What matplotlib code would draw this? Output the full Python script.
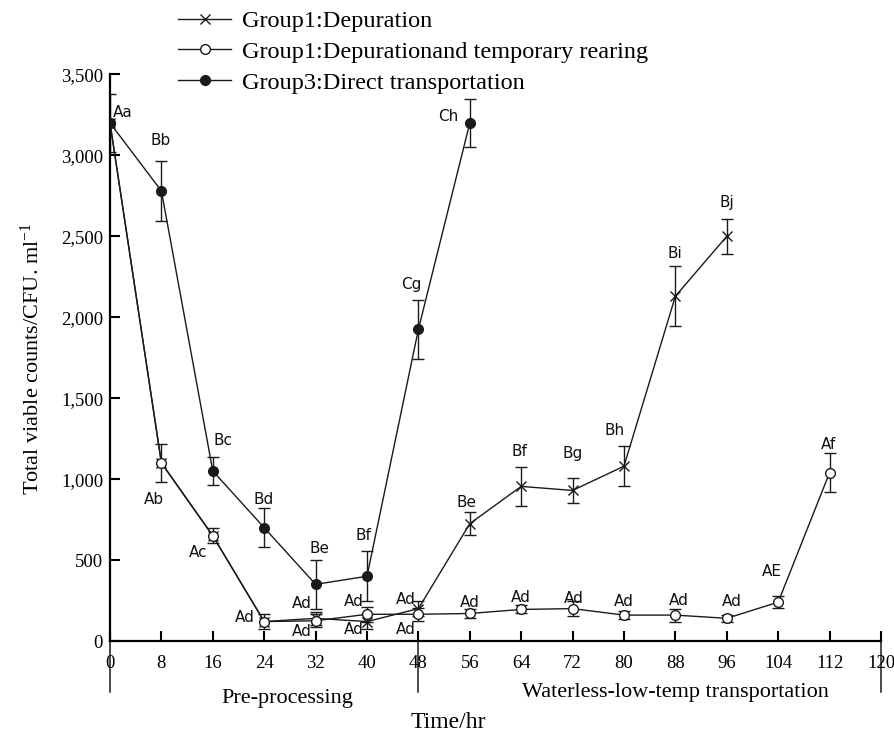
import numpy as np
import matplotlib
matplotlib.use('Agg')
import matplotlib.pyplot as plt
from matplotlib.ticker import FuncFormatter, MultipleLocator

plt.rcParams['font.family'] = ['Liberation Serif', 'DejaVu Serif']
plt.rcParams['mathtext.default'] = 'regular'

# --- data ---
hours_dep = [0, 8, 16, 24, 32, 40, 48, 56, 64, 72, 80, 88, 96]
counts_dep = [3200, 1100, 650, 120, 140, 120, 200, 725, 955, 930, 1080, 2130, 2500]
err_dep = [0, 0, 0, 0, 40, 45, 45, 72, 120, 75, 125, 185, 108]
labels_dep = [None, None, None, None, 'Ad', 'Ad', 'Ad', 'Be', 'Bf', 'Bg', 'Bh', 'Bi', 'Bj']

hours_rear = [0, 8, 16, 24, 32, 40, 48, 56, 64, 72, 80, 88, 96, 104, 112]
counts_rear = [3200, 1100, 650, 120, 125, 165, 165, 170, 195, 200, 160, 160, 140, 240, 1040]
err_rear = [0, 118, 45, 45, 40, 45, 40, 25, 25, 45, 25, 40, 20, 35, 120]
labels_rear = [None, 'Ab', 'Ac', 'Ad', 'Ad', 'Ad', 'Ad', 'Ad', 'Ad', 'Ad', 'Ad', 'Ad', 'Ad', 'AE', 'Af']

hours_direct = [0, 8, 16, 24, 32, 40, 48, 56]
counts_direct = [3200, 2780, 1050, 700, 350, 400, 1925, 3200]
err_direct = [180, 185, 85, 120, 150, 155, 180, 150]
labels_direct = ['Aa', 'Bb', 'Bc', 'Bd', 'Be', 'Bf', 'Cg', 'Ch']

series_names = ['Group1:Depuration',
                'Group1:Depurationand temporary rearing',
                'Group3:Direct transportation']

x_ticks = list(range(0, 121, 8))
phase_bounds = [0, 48, 120]
phase_names = ['Pre-processing', 'Waterless-low-temp transportation']

# label offsets in pixels (dx right, dy down) from each point
off_dep = [None, None, None, None, (-14, 13), (-13, 8), (-13, 21),
           (-3, -21), (-2, -35), (0, -37), (-9, -36), (-1, -43), (0, -34)]
off_rear = [None, (-7, 37), (-15, 17), (-19, -4), (-14, -17), (-13, -13), (-13, -15),
            (0, -11), (0, -12), (1, -10), (0, -14), (3, -15), (5, -17), (-6, -31), (-1, -28)]
off_direct = [(13, -10), (-1, -50), (10, -31), (-1, -28), (4, -36), (-4, -41), (-7, -45), (-22, -6)]

W, H = 895, 733
LINE = '#1a1a1a'


def fx(px):
    return px / W


def fy(py):
    return 1 - py / H


def draw_series(ax, x, y, err, labels, offsets, marker, face, size, name):
    x = np.array(x)
    y = np.array(y)
    err = np.array(err)
    ax.plot(x, y, color=LINE, lw=1.0, marker=marker, ms=size, mfc=face,
            mec=LINE, mew=1.0, label=name, zorder=3)
    has = err > 0
    ax.errorbar(x[has], y[has], yerr=err[has], fmt='none', ecolor=LINE,
                elinewidth=1.0, capsize=4, capthick=1.0, zorder=2)
    for xi, yi, lab, off in zip(x, y, labels, offsets):
        if lab is None:
            continue
        ax.annotate(lab, (xi, yi), xytext=(off[0], -off[1]), textcoords='offset pixels',
                    ha='center', va='center', family='DejaVu Sans', fontsize=11,
                    color='#111111', zorder=4)


fig = plt.figure(figsize=(W / 100, H / 100), dpi=100)
ax = fig.add_axes([fx(110), fy(641), fx(881) - fx(110), fy(74.4) - fy(641)])

draw_series(ax, hours_dep, counts_dep, err_dep, labels_dep, off_dep, 'x', 'none', 7, series_names[0])
draw_series(ax, hours_rear, counts_rear, err_rear, labels_rear, off_rear, 'o', 'white', 7, series_names[1])
draw_series(ax, hours_direct, counts_direct, err_direct, labels_direct, off_direct, 'o', LINE, 7, series_names[2])

ax.set_xlim(0, 120)
ax.set_ylim(0, 3500)
ax.set_xticks(x_ticks)
ax.yaxis.set_major_locator(MultipleLocator(500))
ax.yaxis.set_major_formatter(FuncFormatter(lambda v, p: f'{int(v):,}'))

for s in ('top', 'right'):
    ax.spines[s].set_visible(False)
for s in ('left', 'bottom'):
    ax.spines[s].set_linewidth(1.6)
    ax.spines[s].set_color('black')

ax.tick_params(axis='both', direction='in', length=7, width=1.5, labelsize=13.5, color='black')
ax.tick_params(axis='x', pad=10)
ax.tick_params(axis='y', pad=5)

# vertical phase dividers below the axis
for b in phase_bounds:
    ax.plot([b, b], [0, -316], color=LINE, lw=1.1, clip_on=False, zorder=1)

fig.text(fx(287), fy(698), phase_names[0], ha='center', va='center', fontsize=16)
fig.text(fx(675), fy(692), phase_names[1], ha='center', va='center', fontsize=16)
fig.text(fx(448), fy(722), 'Time/hr', ha='center', va='center', fontsize=17)
fig.text(fx(32), fy(359), 'Total viable counts/CFU. ml$^{-1}$', rotation=90,
         ha='center', va='center', fontsize=16)

fig.legend(loc='upper left', bbox_to_anchor=(fx(178), fy(10)), frameon=False,
           fontsize=17.5, handlelength=2.2, handletextpad=0.45, labelspacing=0.36,
           borderpad=0, borderaxespad=0)

fig.savefig('out.png', dpi=100)
